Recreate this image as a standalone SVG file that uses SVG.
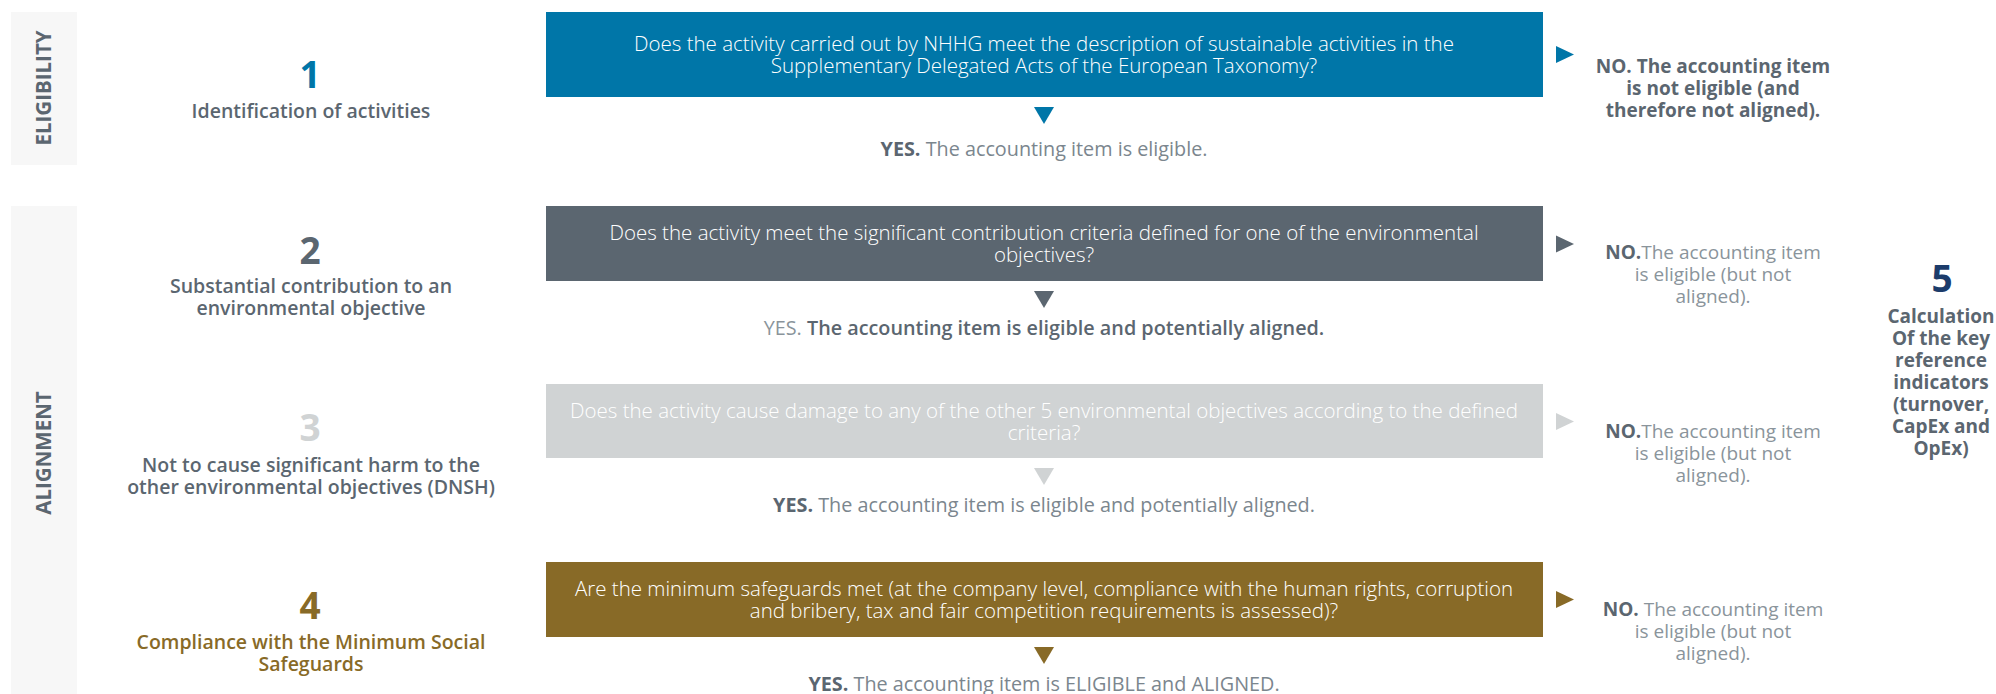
<svg xmlns="http://www.w3.org/2000/svg" width="1996" height="694" viewBox="0 0 1996 694">
<style>
text{font-family:"Open Sans","Liberation Sans",sans-serif;}
.panel{fill:#f7f7f7;}
.ptitle{font-size:20.5px;font-weight:700;fill:#5b6670;text-anchor:middle;}
.num{font-size:37px;font-weight:700;text-anchor:middle;}
.lbl{font-size:19.5px;font-weight:600;fill:#5b6670;text-anchor:middle;}
.q{font-size:20.5px;font-weight:300;fill:#ffffff;text-anchor:middle;}
.yes{font-size:19.8px;text-anchor:middle;fill:#7b868e;font-weight:400;}
.no{font-size:19px;text-anchor:middle;fill:#8a949b;font-weight:400;}
.b{font-weight:700;fill:#5b6670;}
.m{font-weight:600;fill:#5b6670;}
.lt{font-weight:400;fill:#8a949b;}
.blue{fill:#0076a8;}
.slate{fill:#5b6670;}
.grey{fill:#d0d3d4;}
.gold{fill:#886a27;}
</style>

<g id="panel-eligibility">
<rect class="panel" x="11" y="12" width="66" height="153"/>
<text class="ptitle" transform="translate(51,88) rotate(-90)">ELIGIBILITY</text>
</g>
<g id="panel-alignment">
<rect class="panel" x="11" y="206" width="66" height="488"/>
<text class="ptitle" transform="translate(51,453) rotate(-90)">ALIGNMENT</text>
</g>

<g id="step1">
<text class="num blue" x="310" y="88">1</text>
<text class="lbl" x="311" y="118">Identification of activities</text>
</g>
<g id="step2">
<text class="num slate" x="310" y="264">2</text>
<text class="lbl" x="311" y="293">Substantial contribution to an<tspan x="311" dy="22">environmental objective</tspan></text>
</g>
<g id="step3">
<text class="num grey" x="310" y="441">3</text>
<text class="lbl" x="311" y="472">Not to cause significant harm to the<tspan x="311" dy="22">other environmental objectives (DNSH)</tspan></text>
</g>
<g id="step4">
<text class="num gold" x="310" y="619">4</text>
<text class="lbl" x="311" y="649" style="fill:#886a27">Compliance with the Minimum Social<tspan x="311" dy="22">Safeguards</tspan></text>
</g>
<g id="step5">
<text class="num" x="1942" y="292" style="fill:#1c3c6b">5</text>
<text class="no b" x="1941" y="323">Calculation<tspan x="1941" dy="22">Of the key</tspan><tspan x="1941" dy="22">reference</tspan><tspan x="1941" dy="22">indicators</tspan><tspan x="1941" dy="22">(turnover,</tspan><tspan x="1941" dy="22">CapEx and</tspan><tspan x="1941" dy="22">OpEx)</tspan></text>
</g>

<g id="q1">
<rect class="blue" x="546" y="12" width="997" height="85"/>
<text class="q" x="1044" y="51">Does the activity carried out by NHHG meet the description of sustainable activities in the<tspan x="1044" dy="22">Supplementary Delegated Acts of the European Taxonomy?</tspan></text>
</g>
<g id="q2">
<rect class="slate" x="546" y="206" width="997" height="75"/>
<text class="q" x="1044" y="240">Does the activity meet the significant contribution criteria defined for one of the environmental<tspan x="1044" dy="22">objectives?</tspan></text>
</g>
<g id="q3">
<rect class="grey" x="546" y="384" width="997" height="74"/>
<text class="q" x="1044" y="418">Does the activity cause damage to any of the other 5 environmental objectives according to the defined<tspan x="1044" dy="22">criteria?</tspan></text>
</g>
<g id="q4">
<rect class="gold" x="546" y="562" width="997" height="75"/>
<text class="q" x="1044" y="596">Are the minimum safeguards met (at the company level, compliance with the human rights, corruption<tspan x="1044" dy="22">and bribery, tax and fair competition requirements is assessed)?</tspan></text>
</g>

<g id="yes1"><text class="yes" x="1044" y="156"><tspan class="b">YES.</tspan> The accounting item is eligible.</text></g>
<g id="yes2"><text class="yes" x="1044" y="335"><tspan class="lt">YES.</tspan> <tspan class="m">The accounting item is eligible and potentially aligned.</tspan></text></g>
<g id="yes3"><text class="yes" x="1044" y="512"><tspan class="b">YES.</tspan> The accounting item is eligible and potentially aligned.</text></g>
<g id="yes4"><text class="yes" x="1044" y="691"><tspan class="b">YES.</tspan> The accounting item is ELIGIBLE and ALIGNED.</text></g>

<g id="no1">
<text class="no b" x="1713" y="73">NO. The accounting item<tspan x="1713" dy="22">is not eligible (and</tspan><tspan x="1713" dy="22">therefore not aligned).</tspan></text>
</g>
<g id="no2">
<text class="no" x="1713" y="259"><tspan class="b">NO.</tspan>The accounting item<tspan x="1713" dy="22">is eligible (but not</tspan><tspan x="1713" dy="22">aligned).</tspan></text>
</g>
<g id="no3">
<text class="no" x="1713" y="438"><tspan class="b">NO.</tspan>The accounting item<tspan x="1713" dy="22">is eligible (but not</tspan><tspan x="1713" dy="22">aligned).</tspan></text>
</g>
<g id="no4">
<text class="no" x="1713" y="616"><tspan class="b">NO.</tspan> The accounting item<tspan x="1713" dy="22">is eligible (but not</tspan><tspan x="1713" dy="22">aligned).</tspan></text>
</g>

<g id="connectors">
<path class="blue" d="M1034 107 L1054 107 L1044 124 Z"/>
<path class="slate" d="M1034 291 L1054 291 L1044 308 Z"/>
<path class="grey" d="M1034 468 L1054 468 L1044 485 Z"/>
<path class="gold" d="M1034 647 L1054 647 L1044 664 Z"/>
<path class="blue" d="M1556 46 L1574 54.5 L1556 63 Z"/>
<path class="slate" d="M1556 235.5 L1574 244 L1556 252.5 Z"/>
<path class="grey" d="M1556 413 L1574 421.5 L1556 430 Z"/>
<path class="gold" d="M1556 591 L1574 599.5 L1556 608 Z"/>
</g>
</svg>
